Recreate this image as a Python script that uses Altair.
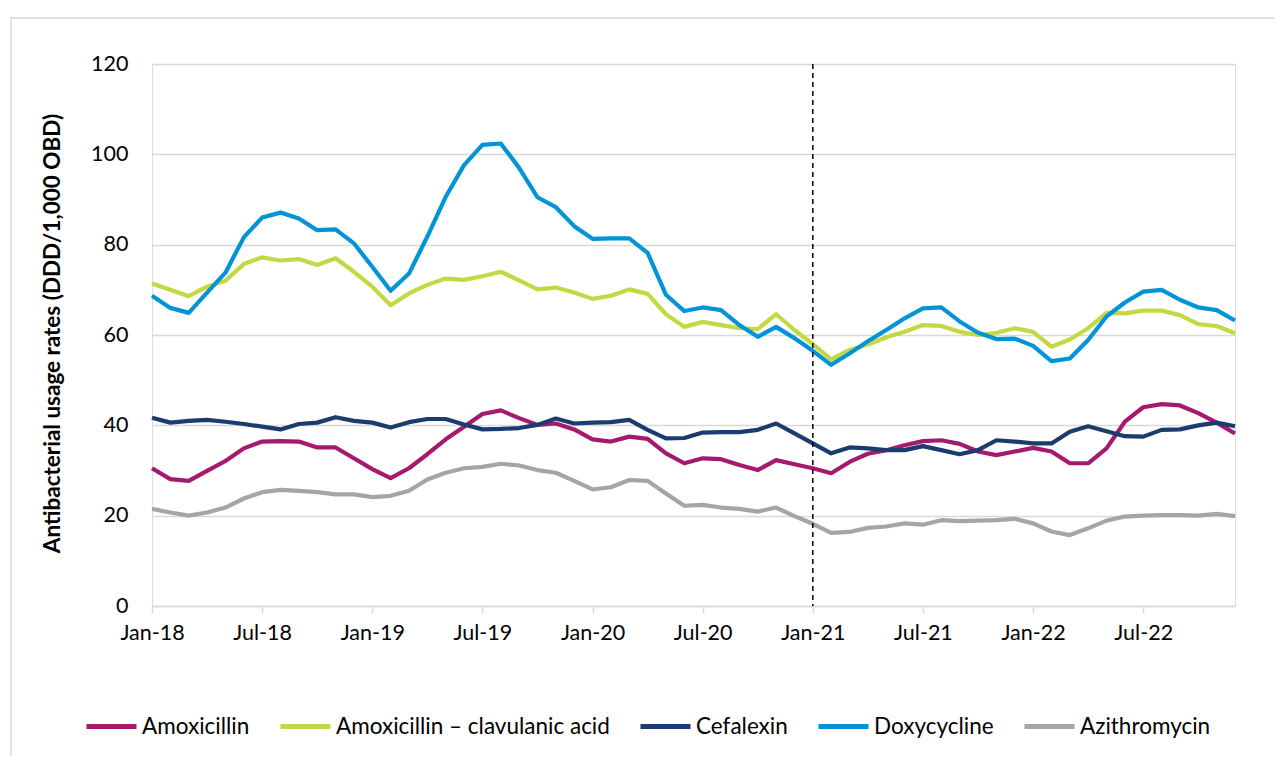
import json
import altair as alt
import pandas as pd

drugs = ["Amoxicillin", "Amoxicillin \u2013 clavulanic acid", "Cefalexin", "Doxycycline", "Azithromycin"]
colors = ["#A5196E", "#C4D844", "#1A3C6E", "#0094D6", "#A5A5A5"]

tick_labels = ["Jan-18", "Jul-18", "Jan-19", "Jul-19", "Jan-20", "Jul-20",
               "Jan-21", "Jul-21", "Jan-22", "Jul-22"]

amoxicillin = [30.5, 28.1, 27.7, 29.9, 32.1, 34.9, 36.4, 36.5, 36.4, 35.1,
               35.1, 32.7, 30.3, 28.3, 30.5, 33.6, 36.9, 39.7, 42.5, 43.3,
               41.6, 40.1, 40.4, 39.1, 36.9, 36.4, 37.5, 37.0, 33.8, 31.6,
               32.7, 32.5, 31.2, 30.1, 32.3, 31.4, 30.5, 29.4, 31.9, 33.7,
               34.5, 35.6, 36.5, 36.7, 35.9, 34.2, 33.4, 34.2, 35.0, 34.2,
               31.6, 31.6, 34.9, 40.8, 44.0, 44.7, 44.4, 42.7, 40.6, 38.2]
amox_clav = [71.4, 70.0, 68.6, 70.7, 72.0, 75.7, 77.2, 76.5, 76.8, 75.5,
             77.0, 74.0, 70.7, 66.6, 69.2, 71.1, 72.5, 72.2, 73.0, 74.0,
             72.1, 70.1, 70.5, 69.4, 68.0, 68.7, 70.1, 69.1, 64.6, 61.8,
             62.9, 62.2, 61.5, 61.3, 64.6, 61.1, 58.0, 54.6, 56.7, 57.9,
             59.5, 60.7, 62.2, 62.0, 60.7, 60.0, 60.5, 61.5, 60.7, 57.4,
             59.0, 61.5, 64.9, 64.8, 65.4, 65.4, 64.4, 62.4, 62.0, 60.4]
cefalexin = [41.7, 40.6, 41.0, 41.2, 40.8, 40.3, 39.7, 39.1, 40.3, 40.6,
             41.8, 41.0, 40.6, 39.5, 40.7, 41.4, 41.4, 40.2, 39.1, 39.2,
             39.4, 40.1, 41.5, 40.4, 40.6, 40.7, 41.2, 39.0, 37.1, 37.2,
             38.4, 38.5, 38.5, 39.0, 40.4, 38.2, 36.0, 33.8, 35.1, 34.9,
             34.5, 34.5, 35.4, 34.5, 33.6, 34.5, 36.7, 36.4, 36.0, 36.0,
             38.6, 39.8, 38.7, 37.6, 37.5, 39.0, 39.1, 40.0, 40.6, 39.8]
doxycycline = [68.7, 66.0, 64.9, 69.4, 73.8, 81.6, 86.0, 87.1, 85.8, 83.2,
               83.4, 80.3, 75.1, 69.8, 73.6, 81.8, 90.6, 97.6, 102.1, 102.4,
               97.0, 90.5, 88.3, 84.1, 81.3, 81.4, 81.4, 78.2, 68.9, 65.3,
               66.1, 65.5, 62.2, 59.6, 61.8, 59.3, 56.5, 53.4, 55.9, 58.6,
               61.1, 63.7, 65.9, 66.1, 63.0, 60.5, 59.1, 59.2, 57.6, 54.2,
               54.8, 58.9, 64.1, 67.2, 69.6, 70.0, 67.8, 66.1, 65.5, 63.2]
azithromycin = [21.5, 20.7, 20.0, 20.7, 21.8, 23.8, 25.2, 25.7, 25.5, 25.2,
                24.7, 24.7, 24.1, 24.4, 25.5, 28.0, 29.5, 30.5, 30.8, 31.5,
                31.1, 30.1, 29.5, 27.7, 25.8, 26.3, 27.9, 27.7, 24.9, 22.2,
                22.4, 21.8, 21.5, 20.9, 21.8, 19.9, 18.2, 16.2, 16.4, 17.3,
                17.6, 18.3, 18.0, 19.0, 18.8, 18.9, 19.0, 19.3, 18.3, 16.5,
                15.7, 17.2, 18.9, 19.8, 20.0, 20.1, 20.1, 20.0, 20.4, 19.9]

marker_month = 36  # Jan-21
series = [amoxicillin, amox_clav, cefalexin, doxycycline, azithromycin]

rows = []
for name, vals in zip(drugs, series):
    for i, v in enumerate(vals):
        rows.append({"drug": name, "month": i, "value": v, "order": drugs.index(name)})
df = pd.DataFrame(rows)

FONT = "Lato"
W, H = 1083, 542

x_enc = alt.X("month:Q",
              scale=alt.Scale(domain=[0, 59], nice=False, zero=False),
              axis=alt.Axis(values=list(range(0, 60, 6)),
                            labelExpr=json.dumps(tick_labels) + "[round(datum.value/6)]",
                            title=None, grid=False, domainColor="#D9D9D9", domainWidth=1.5,
                            tickColor="#D9D9D9", tickWidth=1.5, tickSize=7,
                            labelFont=FONT, labelFontSize=21.5, labelColor="#000000",
                            labelPadding=9, labelFlush=False))
y_enc = alt.Y("value:Q",
              scale=alt.Scale(domain=[0, 120], nice=False),
              axis=alt.Axis(values=list(range(0, 121, 20)), title="Antibacterial usage rates (DDD/1,000 OBD)",
                            grid=True, gridColor="#D9D9D9", gridWidth=1.5, domain=False, ticks=False,
                            labelFont=FONT, labelFontSize=21.5, labelColor="#000000", labelPadding=24,
                            titleFont=FONT, titleFontSize=22.5, titleFontWeight="bold", titleColor="#000000",
                            titleX=-100, titleY=H / 2 - 2, titleAngle=270, titleAlign="center",
                            titleBaseline="middle"))

lines = alt.Chart(df).mark_line(strokeWidth=4.2, strokeJoin="round").encode(
    x=x_enc,
    y=y_enc,
    color=alt.Color("drug:N",
                    scale=alt.Scale(domain=drugs, range=colors),
                    sort=drugs,
                    legend=alt.Legend(title=None, orient="none", direction="horizontal",
                                      legendX=-68, legendY=635,
                                      symbolType="stroke", symbolSize=2500, symbolStrokeWidth=5,
                                      labelFont=FONT, labelFontSize=22.5, labelColor="#000000",
                                      labelOffset=3, columnPadding=20, labelLimit=400)),
    order=alt.Order("order:Q"),
)

marker = alt.Chart(pd.DataFrame({"month": [marker_month]})).mark_rule(
    color="#000000", strokeWidth=1.5, strokeDash=[5, 4]
).encode(x="month:Q", y=alt.value(0), y2=alt.value(H))

border = alt.Chart(pd.DataFrame({"k": [0]})).mark_rect(
    fill=None, stroke="#D9D9D9", strokeWidth=1.5
).encode(x=alt.value(-141), x2=alt.value(1140), y=alt.value(-46), y2=alt.value(820))

chart = alt.layer(border, lines, marker).properties(
    width=W, height=H,
    autosize=alt.AutoSizeParams(type="none"),
    padding={"left": 144, "top": 56, "right": 39, "bottom": 150},
).configure_view(stroke=None).configure(background="#FFFFFF")

chart.save("out.html", embed_options={"renderer": "svg", "actions": False})
